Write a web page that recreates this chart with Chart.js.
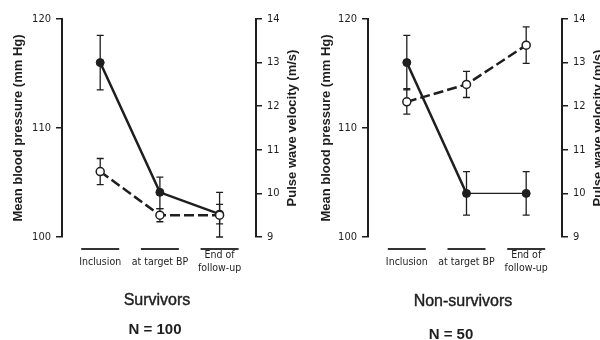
<!DOCTYPE html>
<html>
<head>
<meta charset="utf-8">
<script src="https://cdn.jsdelivr.net/npm/chart.js@4"></script>
<style>
  body { margin: 0; background: #fff; }
  #wrap { position: relative; width: 600px; height: 340px; overflow: hidden; }
  canvas { position: absolute; top: 0; }
  .grp { position: absolute; transform: translateX(-50%); white-space: nowrap; color: #1e1e1e;
         font-family: 'Liberation Sans', Arial, sans-serif; }
  .grp.name { font-size: 16px; line-height: 20px; -webkit-text-stroke: 0.4px #1e1e1e; }
  .grp.n { font-size: 15px; line-height: 18px; font-weight: bold; }
</style>
</head>
<body>
<div id="wrap">
  <canvas id="survivors" width="300" height="340" style="left:0"></canvas>
  <canvas id="nonSurvivors" width="300" height="340" style="left:300px"></canvas>
  <div class="grp name" style="left:157px; top:290px">Survivors</div>
  <div class="grp n" style="left:155px; top:320px">N = 100</div>
  <div class="grp name" style="left:463px; top:291px">Non-survivors</div>
  <div class="grp n" style="left:451px; top:325px">N = 50</div>
</div>
<script>
// time points on the x axis
const timepoints = ['Inclusion', 'at target BP', ['End of', 'follow-up']];

// tick labels
const bpTicks = [100, 110, 120];
const pwvTicks = [9, 10, 11, 12, 13, 14];

// survivors - mean BP (filled) and PWV (open)
const survBP = [116, 104.1, 102.1];
const survBPLow = [113.5, 102.6, 100];
const survBPHigh = [118.5, 105.5, 104.1];
const survPWV = [10.5, 9.5, 9.5];
const survPWVLow = [10.2, 9.35, 9.3];
const survPWVHigh = [10.8, 9.65, 9.75];

// non-survivors
const nonBP = [116, 104, 104];
const nonBPLow = [113.5, 102, 102];
const nonBPHigh = [118.5, 106, 106];
const nonPWV = [12.1, 12.5, 13.4];
const nonPWVLow = [11.82, 12.2, 12.98];
const nonPWVHigh = [12.4, 12.8, 13.82];

const ink = '#1e1e1e';
const smallFont = { family: "'DejaVu Sans Condensed', 'DejaVu Sans', sans-serif", size: 11 };
const titleFont = { family: "'Liberation Sans', Arial, sans-serif", size: 13, weight: 'bold' };

// error bars, category bars and the right axis title
const deco = {
  id: 'deco',
  beforeDatasetsDraw(chart) {
    const ctx = chart.ctx;
    chart.data.datasets.forEach((ds, i) => {
      const y = chart.scales[ds.yAxisID];
      ctx.save();
      ctx.strokeStyle = ink;
      ctx.lineWidth = 1.3;
      chart.getDatasetMeta(i).data.forEach((pt, j) => {
        const top = y.getPixelForValue(ds.errHigh[j]);
        const bot = y.getPixelForValue(ds.errLow[j]);
        ctx.beginPath();
        ctx.moveTo(pt.x, top); ctx.lineTo(pt.x, bot);
        ctx.moveTo(pt.x - 3.5, top); ctx.lineTo(pt.x + 3.5, top);
        ctx.moveTo(pt.x - 3.5, bot); ctx.lineTo(pt.x + 3.5, bot);
        ctx.stroke();
      });
      ctx.restore();
    });
  },
  afterDraw(chart) {
    const ctx = chart.ctx;
    const x = chart.scales.x;
    const area = chart.chartArea;
    ctx.save();
    ctx.strokeStyle = '#333';
    ctx.lineWidth = 2;
    x.ticks.forEach(t => {
      const px = x.getPixelForValue(t.value);
      ctx.beginPath();
      ctx.moveTo(px - 19, x.top + 12);
      ctx.lineTo(px + 19, x.top + 12);
      ctx.stroke();
    });
    // right title reads bottom-to-top like the left one
    ctx.translate(area.right + 36, (area.top + area.bottom) / 2);
    ctx.rotate(-Math.PI / 2);
    ctx.fillStyle = ink;
    ctx.font = 'bold 13px "Liberation Sans", Arial, sans-serif';
    ctx.textAlign = 'center';
    ctx.textBaseline = 'middle';
    ctx.fillText('Pulse wave velocity (m/s)', 0, 0);
    ctx.restore();
  }
};

function makeChart(id, bp, bpLow, bpHigh, pwv, pwvLow, pwvHigh, geo) {
  return new Chart(document.getElementById(id), {
    type: 'line',
    data: {
      datasets: [
        {
          label: 'Mean blood pressure',
          data: bp.map((v, i) => ({ x: i, y: v })),
          errLow: bpLow, errHigh: bpHigh,
          yAxisID: 'yBP',
          borderColor: ink, borderWidth: 2.5,
          pointRadius: 4, pointBackgroundColor: ink, pointBorderColor: ink, pointBorderWidth: 1,
          segment: { borderWidth: c => (geo.thinLast && c.p0DataIndex === 1 ? 1.2 : 2.5) },
          tension: 0, order: 2
        },
        {
          label: 'Pulse wave velocity',
          data: pwv.map((v, i) => ({ x: i, y: v })),
          errLow: pwvLow, errHigh: pwvHigh,
          yAxisID: 'yPWV',
          borderColor: ink, borderWidth: 2.5, borderDash: [10, 4],
          pointRadius: 4, pointBackgroundColor: '#fff', pointBorderColor: ink, pointBorderWidth: 1.5,
          tension: 0, order: 1
        }
      ]
    },
    options: {
      responsive: false,
      animation: false,
      layout: { padding: { top: 19, left: 0, right: 0, bottom: 0 } },
      plugins: { legend: { display: false }, tooltip: { enabled: false } },
      scales: {
        x: {
          type: 'linear', min: geo.xMin, max: geo.xMax,
          afterBuildTicks: s => { s.ticks = timepoints.map((_, i) => ({ value: i })); },
          afterFit: s => { s.height = 103; },
          grid: { display: false, drawTicks: false },
          border: { display: false },
          ticks: {
            callback: v => timepoints[v],
            font: { ...smallFont, size: 10.5, lineHeight: 1.25 },
            color: ink, padding: 18.5, crossAlign: 'center', maxRotation: 0, autoSkip: false
          }
        },
        yBP: {
          position: 'left', min: 100, max: 120,
          afterBuildTicks: s => { s.ticks = bpTicks.map(v => ({ value: v })); },
          afterFit: s => { s.width = geo.leftW; },
          grid: { drawOnChartArea: false, tickLength: 6, color: ink, lineWidth: 1.5 },
          border: { color: ink, width: 2 },
          ticks: { font: smallFont, color: ink, padding: 5 },
          title: {
            display: true, text: 'Mean blood pressure (mm Hg)', font: titleFont, color: ink,
            padding: { top: geo.titlePad, bottom: 0 }
          }
        },
        yPWV: {
          position: 'right', min: 9, max: 14,
          afterBuildTicks: s => { s.ticks = pwvTicks.map(v => ({ value: v })); },
          afterFit: s => { s.width = geo.rightW; },
          grid: { drawOnChartArea: false, tickLength: 6, color: ink, lineWidth: 1.5 },
          border: { color: ink, width: 2 },
          ticks: { font: smallFont, color: ink, padding: 5 }
        }
      }
    },
    plugins: [deco]
  });
}

makeChart('survivors', survBP, survBPLow, survBPHigh, survPWV, survPWVLow, survPWVHigh,
  { leftW: 62, rightW: 44, xMin: -0.64, xMax: 2.61, titlePad: 11, thinLast: false });
makeChart('nonSurvivors', nonBP, nonBPLow, nonBPHigh, nonPWV, nonPWVLow, nonPWVHigh,
  { leftW: 68, rightW: 38, xMin: -0.65, xMax: 2.6, titlePad: 19, thinLast: true });
</script>
</body>
</html>
